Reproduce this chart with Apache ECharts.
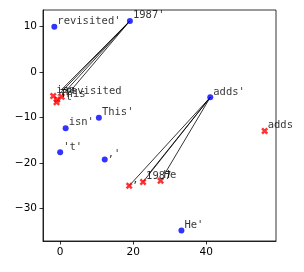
<!DOCTYPE html>
<html>
<head>
<meta charset="utf-8">
<script src="https://cdn.jsdelivr.net/npm/echarts@6/dist/echarts.min.js"></script>
<style>html,body{margin:0;padding:0;background:#fff}#c{width:304px;height:272px}</style>
</head>
<body>
<div id="c"></div>
<script>
// Blue points (words with trailing quote)
const blueLabels = ["revisited'", "1987'", "adds'", "This'", "isn'", "'t'", ",'", "He'"];
const blueX = [-1.6, 19.1, 41.1, 10.6, 1.5, 0.0, 12.2, 33.2];
const blueY = [9.9, 11.2, -5.6, -10.1, -12.4, -17.7, -19.25, -34.9];
// Red crosses (plain words)
const redLabels = ["revisited", "1987", "adds", "This", "isn", "'t", ",", "He"];
const redX = [0.4, 22.7, 56.0, -0.8, -1.9, -1.0, 18.9, 27.5];
const redY = [-5.5, -24.2, -13.0, -6.1, -5.3, -6.7, -25.05, -23.95];
// Connector segments (start -> end, data units)
const linkStartX = [19.1, 19.1, 19.1, 19.1, 41.1, 41.1, 41.1, 41.1];
const linkStartY = [11.2, 11.2, 11.2, 11.2, -5.6, -5.6, -5.6, -5.6];
const linkEndX = [-0.6, 0.4, 1.3, 2.2, 18.9, 22.7, 24.2, 28.8];
const linkEndY = [-5.2, -3.9, -4.4, -4.8, -25.05, -24.2, -22.5, -22.2];
// Axis ticks
const xTicks = [0, 20, 40];
const yTicks = [-30, -20, -10, 0, 10];

const mono = "DejaVu Sans Mono";
const sans = "DejaVu Sans";
const fmt = v => String(v).replace('-', '\u2212');
const XPATH = 'path://M0,2 L2,0 L4,2 L6,0 L8,2 L6,4 L8,6 L6,8 L4,6 L2,8 L0,6 L2,4 Z';

const series = [];
for (let i = 0; i < linkStartX.length; i++) {
  series.push({
    type: 'line', silent: true, symbol: 'none', z: 1,
    lineStyle: {color: '#000', width: 0.8},
    data: [[linkStartX[i], linkStartY[i]], [linkEndX[i], linkEndY[i]]]
  });
}
series.push({
  type: 'scatter', symbol: 'circle', symbolSize: 6, z: 3,
  itemStyle: {color: '#0000ff'},
  label: {show: true, position: [6, 3], align: 'left', verticalAlign: 'bottom',
    fontFamily: mono, fontSize: 10.5, color: '#000',
    formatter: p => blueLabels[p.dataIndex]},
  data: blueX.map((x, i) => [x, blueY[i]])
});
series.push({
  type: 'scatter', symbol: XPATH, symbolSize: 7, z: 3,
  itemStyle: {color: '#ff0000'},
  label: {show: true, position: [6.5, 3.5], align: 'left', verticalAlign: 'bottom',
    fontFamily: mono, fontSize: 10.5, color: '#000',
    formatter: p => redLabels[p.dataIndex]},
  data: redX.map((x, i) => [x, redY[i]])
});

const chart = echarts.init(document.getElementById('c'), null, {renderer: 'canvas'});
chart.setOption({
  animation: false,
  backgroundColor: '#fff',
  grid: {left: 43, right: 28, top: 10, bottom: 31, show: true, borderColor: '#000', borderWidth: 0.8, backgroundColor: 'transparent'},
  xAxis: {
    type: 'value', min: -4.7, max: 59.1,
    splitLine: {show: false},
    axisLine: {show: true, onZero: false, lineStyle: {color: '#000', width: 0.8}},
    axisTick: {show: true, length: 3.5, lineStyle: {color: '#000', width: 0.8}, customValues: xTicks},
    axisLabel: {fontFamily: sans, fontSize: 10.5, color: '#000', margin: 6, customValues: xTicks, formatter: fmt}
  },
  yAxis: {
    type: 'value', min: -37.2, max: 13.6,
    splitLine: {show: false},
    axisLine: {show: true, onZero: false, lineStyle: {color: '#000', width: 0.8}},
    axisTick: {show: true, length: 3.5, lineStyle: {color: '#000', width: 0.8}, customValues: yTicks},
    axisLabel: {fontFamily: sans, fontSize: 10.5, color: '#000', margin: 6, customValues: yTicks, formatter: fmt}
  },
  series: series
});
</script>
</body>
</html>
